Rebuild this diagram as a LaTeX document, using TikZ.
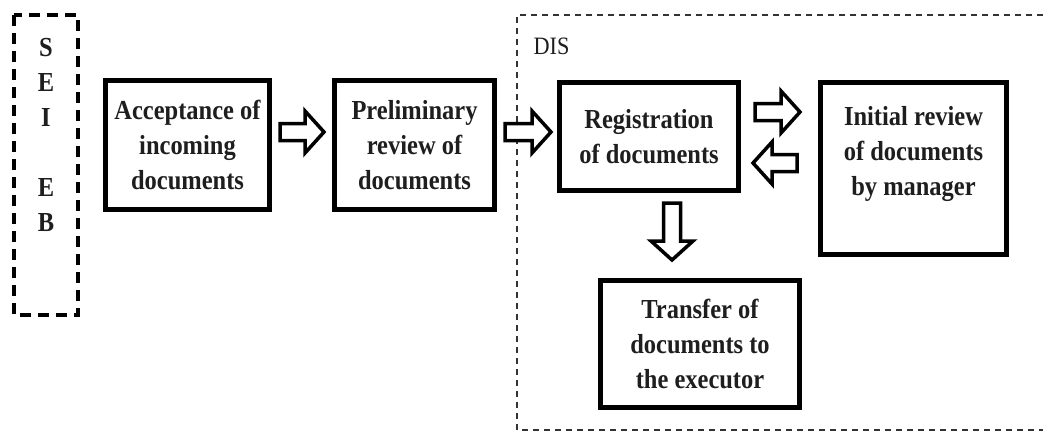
\documentclass[tikz,border=0pt]{standalone}
\usepackage{fontspec}
\setmainfont{Liberation Serif}[FakeStretch=0.89]
\usetikzlibrary{calc}
\definecolor{ink}{HTML}{1E1E1E}
\tikzset{
  box/.style={draw=black, line width=5pt, inner sep=0pt, align=center,
    font=\bfseries\fontsize{27.5}{35}\selectfont, text=ink},
  barrowstyle/.style={draw=black, line width=3.5pt, fill=white, line join=miter},
  outerdash/.style={draw=black, line width=4pt, dash pattern=on 11pt off 7pt},
  innerdash/.style={draw=black!80, line width=1.8pt, dash pattern=on 6pt off 5pt},
}
\newcommand{\blockarrow}[2]{%
  \draw[barrowstyle]
    ($(#1)!8.5pt!90:(#2)$) --
    ($(#2)!19pt!(#1)!8.5pt!-90:(#1)$) --
    ($(#2)!19pt!(#1)!21pt!-90:(#1)$) --
    (#2) --
    ($(#2)!19pt!(#1)!21pt!90:(#1)$) --
    ($(#2)!19pt!(#1)!8.5pt!90:(#1)$) --
    ($(#1)!8.5pt!-90:(#2)$) -- cycle;}
\begin{document}
\begin{tikzpicture}[x=1pt,y=-1pt]
\useasboundingbox (0,0) rectangle (1043,432);
% outer SEIEB dashed box
\draw[outerdash] (14,15) rectangle (78,315);
\node[font=\bfseries\fontsize{27.5}{35}\selectfont, text=ink, align=center] (seieb) at (46,135)
  {S\\E\\I\\\mbox{}\\E\\B};
% DIS dashed region
\draw[innerdash] (1043,15) -- (517,15) -- (517,430) -- (1043,430);
\node[font=\fontsize{25}{28}\selectfont, text=ink, anchor=west] (dis) at (530,46) {DIS};
% boxes
\node[box, minimum width=164pt, minimum height=129pt] (acc) at (187.5,145)
  {Acceptance of\\incoming\\documents};
\node[box, minimum width=160pt, minimum height=129pt] (pre) at (414.5,145)
  {Preliminary\\review of\\documents};
\node[box, minimum width=179pt, minimum height=108pt] (reg) at (649,136.5)
  {Registration\\of documents};
\node[box, minimum width=186pt, minimum height=172pt] (ini) at (913.5,168.5)
  {Initial review\\of documents\\by manager\\\mbox{}};
\node[box, minimum width=199pt, minimum height=127pt] (tra) at (700,344)
  {Transfer of\\documents to\\the executor};
% coordinates for block arrows
\coordinate (a1s) at ($(acc.east)+(8,-13)$);
\coordinate (a1e) at ($(pre.west)+(-8,-13)$);
\coordinate (a2s) at ($(pre.east)+(8,-13)$);
\coordinate (a2e) at ($(reg.west)+(-6,-4.5)$);
\coordinate (a3s) at ($(reg.east)+(14,-24.5)$);
\coordinate (a3e) at ($(ini.west)+(-18,-56.5)$);
\coordinate (a4s) at ($(ini.west)+(-21,-5.5)$);
\coordinate (a4e) at ($(reg.east)+(12,26.5)$);
\coordinate (a5s) at ($(reg.south)+(23,10)$);
\coordinate (a5e) at ($(reg.south)+(23,67)$);
\blockarrow{a1s}{a1e}
\blockarrow{a2s}{a2e}
\blockarrow{a3s}{a3e}
\blockarrow{a4s}{a4e}
\blockarrow{a5s}{a5e}
\end{tikzpicture}
\end{document}
